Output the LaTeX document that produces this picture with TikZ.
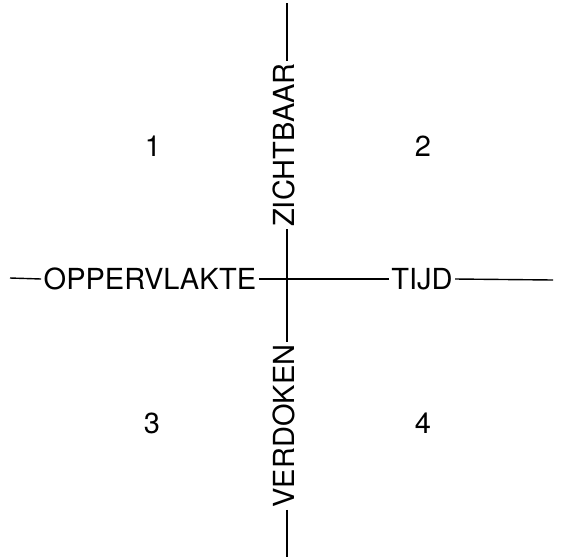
\documentclass[tikz,border=0pt]{standalone}
\usepackage{fontspec}
\setmainfont{TeX Gyre Heros}
\begin{document}
\begin{tikzpicture}[x=1pt,y=-1pt,
  lbl/.style={inner sep=0pt,outer sep=2.5pt,font=\fontsize{29}{29}\selectfont,text height=20.8pt,text depth=0pt},
  num/.style={inner sep=0pt,font=\fontsize{29}{29}\selectfont,text height=20.8pt,text depth=0pt},
  ln/.style={line width=1.4pt,black}]
\useasboundingbox (0,0) rectangle (562,558);
% labels
\node[lbl] (opp) at (150,279) {OPPERVLAKTE};
\node[lbl] (tijd) at (422,279) {TIJD};
\node[lbl,rotate=90] (zicht) at (284,145) {ZICHTBAAR};
\node[lbl,rotate=90] (verd) at (284,426) {VERDOKEN};
% free ends
\coordinate (lend) at (10,278);
\coordinate (rend) at (553,280);
\coordinate (tend) at (287,3);
\coordinate (bend) at (287,557);
% connectors
\draw[ln] (lend) -- (opp.west);
\draw[ln] (opp.east) -- (tijd.west);
\draw[ln] (tijd.east) -- (rend);
\draw[ln] (tend) -- (tend |- zicht.east);
\draw[ln] (tend |- zicht.west) -- (tend |- verd.east);
\draw[ln] (tend |- verd.west) -- (bend);
% quadrant numbers
\node[num] (n1) at (153,146) {1};
\node[num] (n2) at (423,146) {2};
\node[num] (n3) at (152,423) {3};
\node[num] (n4) at (423,423) {4};
\end{tikzpicture}
\end{document}
